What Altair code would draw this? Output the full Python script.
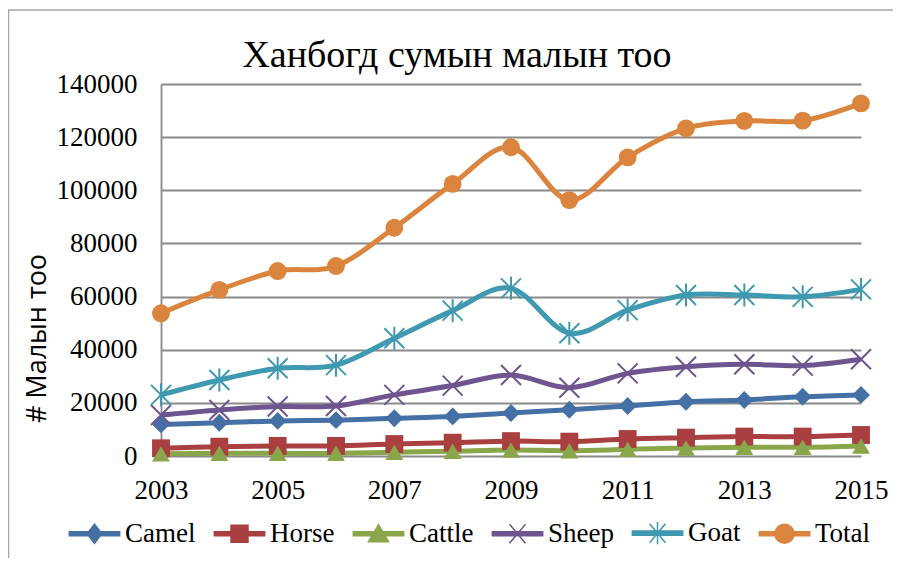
import altair as alt
import pandas as pd

years = list(range(2003, 2016))
series_names = ["Camel", "Horse", "Cattle", "Sheep", "Goat", "Total"]
colors = ["#4470A5", "#A9403F", "#8AA64B", "#6F5590", "#3F99B0", "#DB843D"]

camel = [11900, 12500, 13200, 13500, 14200, 14900, 16200, 17400, 18800, 20400, 21100, 22300, 23000]
horse = [2900, 3500, 3800, 3800, 4500, 5000, 5600, 5400, 6400, 6900, 7300, 7300, 7900]
cattle = [800, 1000, 1000, 1000, 1400, 1800, 2300, 2000, 2500, 3000, 3300, 3300, 3800]
sheep = [15400, 17300, 18600, 18800, 23000, 26500, 30500, 25700, 31100, 33600, 34500, 34000, 36400]
goat = [23000, 28600, 33000, 34200, 44300, 54700, 63100, 46200, 54900, 60600, 60600, 59900, 62700]
total = [53700, 62500, 69600, 71500, 85900, 102400, 116200, 96300, 112400, 123300, 126100, 126200, 132700]

x_ticks = [2003, 2005, 2007, 2009, 2011, 2013, 2015]
y_ticks = [0, 20000, 40000, 60000, 80000, 100000, 120000, 140000]

title_text = "Ханбогд сумын малын тоо"
y_title = "# Малын тоо"

rows = []
for name, vals in zip(series_names, [camel, horse, cattle, sheep, goat, total]):
    for yr, v in zip(years, vals):
        rows.append({"year": yr, "series": name, "value": v})
df = pd.DataFrame(rows)

SERIF = "Liberation Serif"
GRID = "#8a8a8a"

x_enc = alt.X(
    "year:Q",
    scale=alt.Scale(domain=[2003, 2015], nice=False, zero=False),
    axis=alt.Axis(values=x_ticks, format="d", title=None, grid=False, ticks=False,
                  domain=False, labelFont=SERIF, labelFontSize=27, labelColor="black",
                  labelPadding=21, labelFlush=False, labelOverlap=False),
)
y_enc = alt.Y(
    "value:Q",
    scale=alt.Scale(domain=[0, 140000], nice=False),
    axis=alt.Axis(values=y_ticks, format="d", title=y_title, grid=True, gridColor=GRID,
                  gridWidth=1.8, ticks=False, domain=True, domainColor=GRID, domainWidth=1.8,
                  labelFont=SERIF, labelFontSize=27, labelColor="black", labelPadding=24,
                  labelOverlap=False, titleFont="Open Sans", titleFontSize=27,
                  titleFontWeight="normal", titleColor="black", titleAngle=270,
                  titleBaseline="alphabetic", titleX=-116, titleY=254, titleAlign="center",
                  titleLimit=1000),
)

color_scale = alt.Scale(domain=series_names, range=colors)

lines = alt.Chart(df).mark_line(interpolate="cardinal", strokeWidth=5).encode(
    x=x_enc, y=y_enc,
    color=alt.Color("series:N", scale=color_scale, legend=None),
)

filled_names = ["Camel", "Horse", "Cattle", "Total"]
filled_pts = alt.Chart(df).transform_filter(
    alt.FieldOneOfPredicate(field="series", oneOf=filled_names)
).mark_point(filled=True, opacity=1, size=320).encode(
    x=x_enc, y=y_enc,
    color=alt.Color("series:N", scale=color_scale, legend=None),
    shape=alt.Shape("series:N", scale=alt.Scale(domain=filled_names,
                    range=["diamond", "square", "triangle-up", "circle"]), legend=None),
)

stroke_names = ["Sheep", "Goat"]
x_path = "M-1,-1L1,1M-1,1L1,-1"
star_path = "M-1,-1L1,1M-1,1L1,-1M0,-1.15L0,1.15"
stroke_pts = alt.Chart(df).transform_filter(
    alt.FieldOneOfPredicate(field="series", oneOf=stroke_names)
).mark_point(filled=False, opacity=1, size=400, strokeWidth=2).encode(
    x=x_enc, y=y_enc,
    color=alt.Color("series:N", scale=color_scale, legend=None),
    shape=alt.Shape("series:N", scale=alt.Scale(domain=stroke_names,
                    range=[x_path, star_path]), legend=None),
)

bar = "M-0.95,-0.08H0.95V0.08H-0.95Z"
legend_paths = [
    bar + "M-0.28,0L0,-0.36L0.28,0L0,0.36Z",
    bar + "M-0.32,-0.32H0.32V0.32H-0.32Z",
    bar + "M0,-0.34L0.38,0.3L-0.38,0.3Z",
    bar + "M-0.3,-0.36L0.3,0.36M-0.3,0.36L0.3,-0.36",
    bar + "M-0.3,-0.36L0.3,0.36M-0.3,0.36L0.3,-0.36M0,-0.42L0,0.42",
    bar + "M-0.36,0A0.36,0.36 0 1,1 0.36,0A0.36,0.36 0 1,1 -0.36,0Z",
]

def mk_legend():
    return alt.Legend(title=None, orient="none", legendX=-94, legendY=421.5,
                      direction="horizontal", symbolSize=2809, symbolStrokeWidth=1.5,
                      symbolOpacity=1, labelFont=SERIF, labelFontSize=27,
                      labelColor="black", labelOffset=3, columnPadding=15, padding=0)

legend_layer = alt.Chart(df).transform_filter("datum.value < 0").mark_point(
    filled=True, opacity=1, strokeWidth=1.5
).encode(
    x=x_enc, y=y_enc,
    fill=alt.Fill("series:N", scale=alt.Scale(domain=series_names, range=colors), legend=mk_legend()),
    stroke=alt.Stroke("series:N", scale=alt.Scale(domain=series_names, range=colors), legend=mk_legend()),
    shape=alt.Shape("series:N", scale=alt.Scale(domain=series_names, range=legend_paths), legend=mk_legend()),
)

one = pd.DataFrame({"a": [0]})
border_top = alt.Chart(one).mark_rule(color="#a6a6a6", strokeWidth=1.5).encode(
    x=alt.value(-153), x2=alt.value(740), y=alt.value(-74))
border_left = alt.Chart(one).mark_rule(color="#a6a6a6", strokeWidth=1.5).encode(
    x=alt.value(-152.5), y=alt.value(-74), y2=alt.value(490))

chart = alt.layer(
    border_top, border_left, lines, filled_pts, stroke_pts, legend_layer
).resolve_scale(shape="independent", fill="independent", stroke="independent").properties(
    width=700, height=372,
    padding={"left": 153, "top": 76, "right": 32, "bottom": 102},
    autosize=alt.AutoSizeParams(type="none"),
    title=alt.TitleParams(title_text, font=SERIF, fontSize=38, fontWeight="normal",
                          color="black", anchor="middle", frame="group", dx=-54,
                          baseline="alphabetic", offset=0, dy=96),
).configure_view(stroke=None)

chart.save("out.html", embed_options={"renderer": "svg", "actions": False})
